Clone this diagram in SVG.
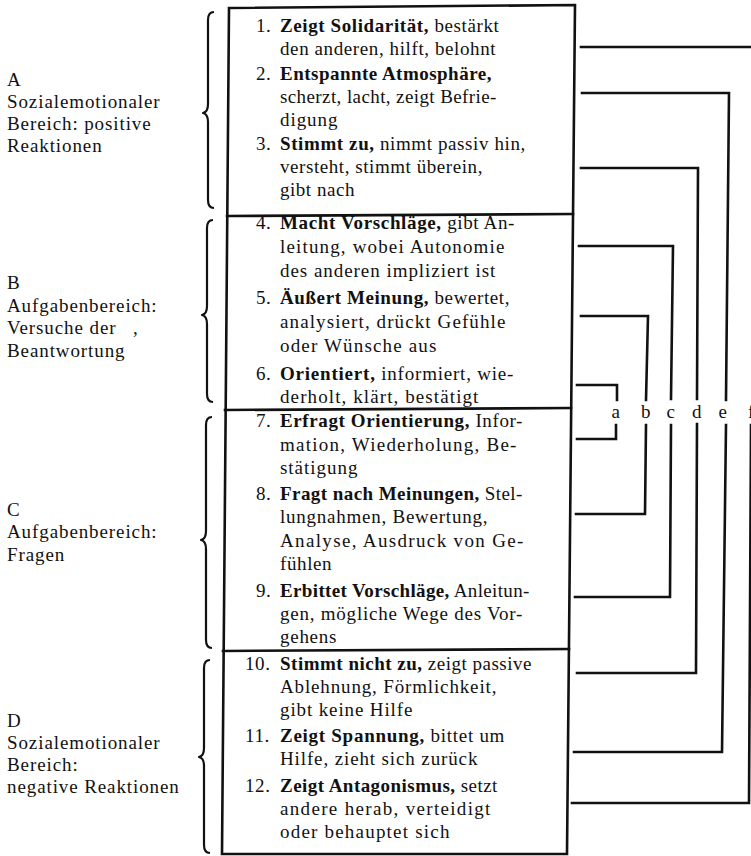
<svg xmlns="http://www.w3.org/2000/svg" width="751" height="856" viewBox="0 0 751 856">
  <style>
    text { font-family: "Liberation Serif", "Times New Roman", serif; font-size: 19px; letter-spacing: 0.6px; fill: #111; }
    .cat text { letter-spacing: 0.9px; }
    .b { font-weight: bold; }
    .ln { fill: none; stroke: #111; stroke-width: 2.6; stroke-linecap: square; }
    .br { fill: none; stroke: #111; stroke-width: 2.2; stroke-linejoin: round; }
    .lbl { text-anchor: middle; }
  </style>
  <rect x="0" y="0" width="751" height="856" fill="#fff"/>

  <!-- table outline and row dividers -->
  <g id="table">
    <path class="ln" d="M229,8 L575,5 L567,854 L222,854 Z"/>
    <path class="ln" d="M227,216 L573,214"/>
    <path class="ln" d="M225,410 L571,408"/>
    <path class="ln" d="M223,651 L569,649"/>
  </g>

  <!-- category labels with braces -->
  <g id="cat-A" class="cat">
    <text x="7" y="86">A</text>
    <text x="7" y="108">Sozialemotionaler</text>
    <text x="7" y="130">Bereich: positive</text>
    <text x="7" y="152">Reaktionen</text>
    <path class="br" d="M214,12 Q208,12 208,20 L208,104 Q208,112 203,113 Q208,114 208,122 L208,200 Q208,208 214,208"/>
  </g>
  <g id="cat-B" class="cat">
    <text x="7" y="289">B</text>
    <text x="7" y="312">Aufgabenbereich:</text>
    <text x="7" y="334">Versuche der<tspan x="133">,</tspan></text>
    <text x="7" y="357">Beantwortung</text>
    <path class="br" d="M213,220 Q207,220 207,228 L207,306 Q207,314 202,315 Q207,316 207,324 L207,394 Q207,402 213,402"/>
  </g>
  <g id="cat-C" class="cat">
    <text x="7" y="516">C</text>
    <text x="7" y="538">Aufgabenbereich:</text>
    <text x="7" y="561">Fragen</text>
    <path class="br" d="M212,417 Q206,417 206,425 L206,531 Q206,539 201,540 Q206,541 206,549 L206,640 Q206,648 212,648"/>
  </g>
  <g id="cat-D" class="cat">
    <text x="7" y="727">D</text>
    <text x="7" y="749">Sozialemotionaler</text>
    <text x="7" y="771">Bereich:</text>
    <text x="7" y="793">negative Reaktionen</text>
    <path class="br" d="M210,660 Q204,660 204,668 L204,748 Q204,756 199,757 Q204,758 204,766 L204,845 Q204,853 210,853"/>
  </g>

  <!-- category items; line widths follow the typeset column -->
  <g id="item-1">
    <text x="256" y="32">1.</text>
    <text x="280" y="32"><tspan class="b">Zeigt Solidarität,</tspan> bestärkt</text>
    <text x="280" y="55">den anderen, hilft, belohnt</text>
  </g>
  <g id="item-2">
    <text x="256" y="80">2.</text>
    <text x="280" y="80" textLength="212" lengthAdjust="spacing"><tspan class="b">Entspannte Atmosphäre,</tspan></text>
    <text x="280" y="103" textLength="217" lengthAdjust="spacing">scherzt, lacht, zeigt Befrie-</text>
    <text x="280" y="126" textLength="58" lengthAdjust="spacing">digung</text>
  </g>
  <g id="item-3">
    <text x="256" y="150">3.</text>
    <text x="280" y="150"><tspan class="b">Stimmt zu,</tspan> nimmt passiv hin,</text>
    <text x="280" y="173" textLength="203" lengthAdjust="spacing">versteht, stimmt überein,</text>
    <text x="280" y="196" textLength="75" lengthAdjust="spacing">gibt nach</text>
  </g>
  <g id="item-4">
    <text x="256" y="229">4.</text>
    <text x="280" y="229" textLength="235" lengthAdjust="spacing"><tspan class="b">Macht Vorschläge,</tspan> gibt An-</text>
    <text x="280" y="253" textLength="225" lengthAdjust="spacing">leitung, wobei Autonomie</text>
    <text x="280" y="277" textLength="216" lengthAdjust="spacing">des anderen impliziert ist</text>
  </g>
  <g id="item-5">
    <text x="256" y="304">5.</text>
    <text x="280" y="304" textLength="230" lengthAdjust="spacing"><tspan class="b">Äußert Meinung,</tspan> bewertet,</text>
    <text x="280" y="328" textLength="226" lengthAdjust="spacing">analysiert, drückt Gefühle</text>
    <text x="280" y="352" textLength="157" lengthAdjust="spacing">oder Wünsche aus</text>
  </g>
  <g id="item-6">
    <text x="256" y="380">6.</text>
    <text x="280" y="380" textLength="234" lengthAdjust="spacing"><tspan class="b">Orientiert,</tspan> informiert, wie-</text>
    <text x="280" y="403" textLength="199" lengthAdjust="spacing">derholt, klärt, bestätigt</text>
  </g>
  <g id="item-7">
    <text x="256" y="427">7.</text>
    <text x="280" y="427" textLength="243" lengthAdjust="spacing"><tspan class="b">Erfragt Orientierung,</tspan> Infor-</text>
    <text x="280" y="451" textLength="237" lengthAdjust="spacing">mation, Wiederholung, Be-</text>
    <text x="280" y="474" textLength="78" lengthAdjust="spacing">stätigung</text>
  </g>
  <g id="item-8">
    <text x="256" y="500">8.</text>
    <text x="280" y="500" textLength="243" lengthAdjust="spacing"><tspan class="b">Fragt nach Meinungen,</tspan> Stel-</text>
    <text x="280" y="523" textLength="208" lengthAdjust="spacing">lungnahmen, Bewertung,</text>
    <text x="280" y="547" textLength="244" lengthAdjust="spacing">Analyse, Ausdruck von Ge-</text>
    <text x="280" y="570">fühlen</text>
  </g>
  <g id="item-9">
    <text x="256" y="597">9.</text>
    <text x="280" y="597" textLength="250" lengthAdjust="spacing"><tspan class="b">Erbittet Vorschläge,</tspan> Anleitun-</text>
    <text x="280" y="620" textLength="243" lengthAdjust="spacing">gen, mögliche Wege des Vor-</text>
    <text x="280" y="643" textLength="57" lengthAdjust="spacing">gehens</text>
  </g>
  <g id="item-10">
    <text x="245" y="670">10.</text>
    <text x="280" y="670" textLength="252" lengthAdjust="spacing"><tspan class="b">Stimmt nicht zu,</tspan> zeigt passive</text>
    <text x="280" y="693" textLength="217" lengthAdjust="spacing">Ablehnung, Förmlichkeit,</text>
    <text x="280" y="716" textLength="133" lengthAdjust="spacing">gibt keine Hilfe</text>
  </g>
  <g id="item-11">
    <text x="245" y="742">11.</text>
    <text x="280" y="742" textLength="225" lengthAdjust="spacing"><tspan class="b">Zeigt Spannung,</tspan> bittet um</text>
    <text x="280" y="765" textLength="198" lengthAdjust="spacing">Hilfe, zieht sich zurück</text>
  </g>
  <g id="item-12">
    <text x="245" y="792">12.</text>
    <text x="280" y="792" textLength="218" lengthAdjust="spacing"><tspan class="b">Zeigt Antagonismus,</tspan> setzt</text>
    <text x="280" y="815" textLength="211" lengthAdjust="spacing">andere herab, verteidigt</text>
    <text x="280" y="838" textLength="170" lengthAdjust="spacing">oder behauptet sich</text>
  </g>

  <!-- pairing brackets a–f, each with a gap for its letter -->
  <g id="connectors">
    <path class="ln" d="M581,47 L756,47 L755,400 M751,425 L749,803 L572,803"/>
    <path class="ln" d="M582,93 L729,93 L726,400 M726,425 L722,752 L574,752"/>
    <path class="ln" d="M581,168 L698,168 L697,399 M697,424 L696,673 L577,673"/>
    <path class="ln" d="M579,246 L673,246 L671,399 M671,425 L670,597 L575,597"/>
    <path class="ln" d="M581,316 L648,316 L646,400 M646,425 L645,514 L576,514"/>
    <path class="ln" d="M577,385 L617,385 L617,400 M616,425 L616,439 L577,439"/>
    <text class="lbl" x="616" y="418">a</text>
    <text class="lbl" x="646" y="418">b</text>
    <text class="lbl" x="671" y="418">c</text>
    <text class="lbl" x="697" y="418">d</text>
    <text class="lbl" x="723" y="418">e</text>
    <text x="748" y="418">f</text>
  </g>
</svg>
